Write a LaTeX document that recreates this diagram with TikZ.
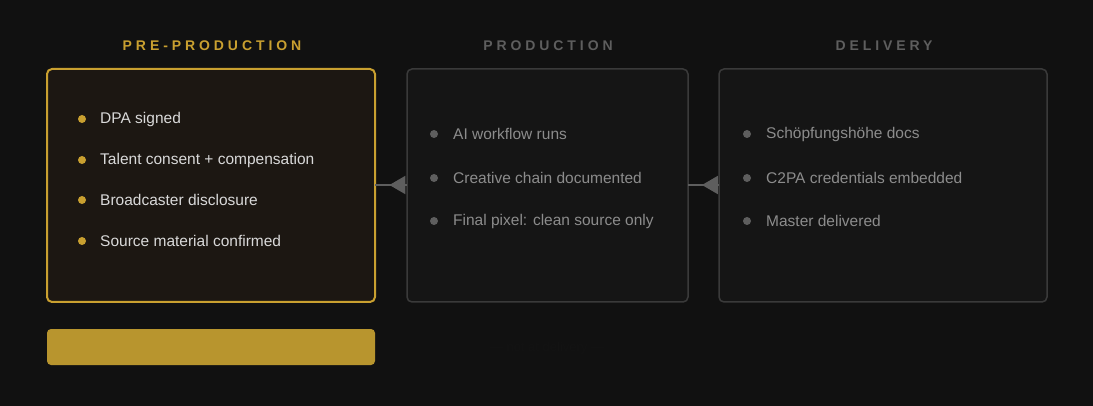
\documentclass[tikz,border=0pt]{standalone}
\usepackage{fontspec}
\setmainfont{Liberation Sans}
\usetikzlibrary{positioning}
\usetikzlibrary{arrows.meta}
\usetikzlibrary{decorations.markings}
\definecolor{bg}{HTML}{111111}
\definecolor{gold}{HTML}{C9A030}
\definecolor{goldbar}{HTML}{B8952E}
\definecolor{prefill}{HTML}{1C1712}
\definecolor{boxfill}{HTML}{151515}
\definecolor{boxline}{HTML}{3A3A3A}
\definecolor{dimtext}{HTML}{8C8C8C}
\definecolor{dot}{HTML}{5E5E5E}
\tikzset{
    stage/.style={draw=boxline, fill=boxfill, line width=1.5pt, rounded corners=5pt},
    prestage/.style={draw=gold, fill=prefill, line width=2pt, rounded corners=5pt},
    header/.style={font=\fontsize{14}{16}\selectfont\bfseries\addfontfeatures{LetterSpace=28}, text=dot},
    item/.style={anchor=west, font=\fontsize{15.5}{18}\selectfont, text=dimtext, inner sep=0pt},
    preitem/.style={item, text=white!85!black},
    bullet/.style={circle, fill=dot, minimum size=8pt, inner sep=0pt},
    prebullet/.style={bullet, fill=gold},
    link/.style={draw=dot, line width=2pt, postaction={decorate},
        decoration={markings,mark=at position 0.55 with {\arrow[draw=dot,fill=dot]{Triangle[length=16pt,width=18pt]}}}},
}
\begin{document}
\begin{tikzpicture}[x=1pt, y=-1pt]
	\fill[bg] (0,0) rectangle (1093,406);
	\useasboundingbox (0,0) rectangle (1093,406);
	% stage boxes
	\draw[prestage] (47,69) rectangle (375,302);
	\draw[stage] (407,69) rectangle (688,302);
	\draw[stage] (719,69) rectangle (1047,302);
	\coordinate (pre) at (375,185);
	\coordinate (prodin) at (407,185);
	\coordinate (prodout) at (688,185);
	\coordinate (delin) at (719,185);
	% headers
	\node[header, text=gold] (hpre) at (212,46) {PRE-PRODUCTION};
	\node[header] (hprod) at (548,46) {PRODUCTION};
	\node[header] (hdel) at (884,46) {DELIVERY};
	% pre-production items
	\foreach \y/\t [count=\i] in {119/DPA signed, 160/Talent consent + compensation,
	    200/Broadcaster disclosure, 241/Source material confirmed}{
		\node[prebullet] (pb\i) at (82,\y) {};
		\node[preitem] (pt\i) at (100,\y) {\t};
	}
	% production items
	\foreach \y/\t [count=\i] in {134/AI workflow runs, 178/Creative chain documented,
	    221/Final pixel: clean source only}{
		\node[bullet] (cb\i) at (434,\y) {};
		\node[item] (ct\i) at (453,\y) {\t};
	}
	% delivery items
	\foreach \y/\t [count=\i] in {134/Schöpfungshöhe docs, 178/C2PA credentials embedded,
	    221/Master delivered}{
		\node[bullet] (db\i) at (747,\y) {};
		\node[item] (dt\i) at (766,\y) {\t};
	}
	% links
	\path[link] (prodin) -- (pre);
	\path[link] (delin) -- (prodout);
	% bottom
	\fill[goldbar, rounded corners=4pt] (47,329) rectangle (375,365);
	\node[text=boxline!120, font=\fontsize{13}{15}\selectfont] (note) at (547,348) {— not at delivery —};
\end{tikzpicture}
\end{document}
